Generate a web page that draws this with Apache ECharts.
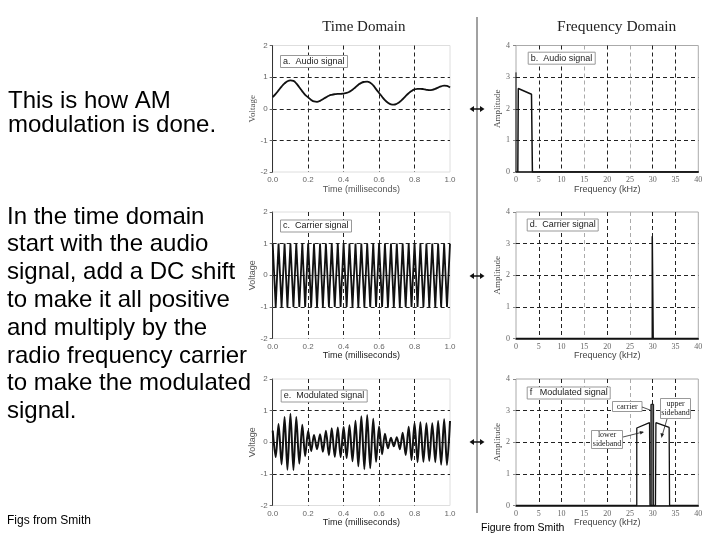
<!DOCTYPE html>
<html><head><meta charset="utf-8">
<script src="https://cdn.jsdelivr.net/npm/echarts@6/dist/echarts.min.js"></script>
<style>html,body{margin:0;padding:0;background:#fff}#c{width:720px;height:540px}</style>
</head><body><div id="c"></div><script>
// ---------- data ----------
const sampleTimes = [0,0.017,0.033,0.05,0.067,0.083,0.1,0.117,0.133,0.15,0.167,0.183,0.2,0.217,0.233,0.25,0.267,0.283,0.3,0.317,0.333,0.35,0.367,0.383,0.4,0.417,0.433,0.45,0.467,0.483,0.5,0.517,0.533,0.55,0.567,0.583,0.6,0.617,0.633,0.65,0.667,0.683,0.7,0.717,0.733,0.75,0.767,0.783,0.8,0.817,0.833,0.85,0.867,0.883,0.9,0.917,0.933,0.95,0.967,0.983,1.0];
const audioVolts = [0.37,0.47,0.58,0.70,0.80,0.87,0.90,0.88,0.80,0.68,0.55,0.44,0.36,0.28,0.23,0.22,0.25,0.30,0.36,0.41,0.44,0.46,0.47,0.47,0.48,0.50,0.54,0.60,0.68,0.76,0.82,0.85,0.86,0.82,0.74,0.62,0.50,0.38,0.27,0.19,0.14,0.13,0.16,0.22,0.30,0.40,0.49,0.56,0.61,0.63,0.63,0.62,0.60,0.59,0.60,0.63,0.67,0.71,0.73,0.72,0.67];
const carrierVolts = [1,-1,1,-1,1,-1,1,-1,1,-1,1,-1,1,-1,1,-1,1,-1,1,-1,1,-1,1,-1,1,-1,1,-1,1,-1,1,-1,1,-1,1,-1,1,-1,1,-1,1,-1,1,-1,1,-1,1,-1,1,-1,1,-1,1,-1,1,-1,1,-1,1,-1,1];
const modulatedVolts = [0.37,-0.47,0.58,-0.70,0.80,-0.87,0.90,-0.88,0.80,-0.68,0.55,-0.44,0.36,-0.28,0.23,-0.22,0.25,-0.30,0.36,-0.41,0.44,-0.46,0.47,-0.47,0.48,-0.50,0.54,-0.60,0.68,-0.76,0.82,-0.85,0.86,-0.82,0.74,-0.62,0.50,-0.38,0.27,-0.19,0.14,-0.13,0.16,-0.22,0.30,-0.40,0.49,-0.56,0.61,-0.63,0.63,-0.62,0.60,-0.59,0.60,-0.63,0.67,-0.71,0.73,-0.72,0.67];

const dcSpecFreq = [0, 0];
const dcSpecAmp = [0, 3.15];
const audioSpecFreq = [0.4, 0.5, 3.4, 3.6, 40];
const audioSpecAmp = [0, 2.64, 2.46, 0, 0];
const carrierSpecFreq = [0, 29.9, 29.9, 30.1, 30.1, 40];
const carrierSpecAmp = [0, 0, 3.23, 3.23, 0, 0];
const modSpecFreq = [0, 26.5, 26.5, 29.3, 29.4, 30.6, 30.7, 33.6, 33.7, 40];
const modSpecAmp = [0, 0, 2.45, 2.62, 0, 0, 2.62, 2.47, 0, 0];
const modCarrierFreq = [29.6, 29.6, 30.2, 30.2];
const modCarrierAmp = [0, 3.2, 3.2, 0];

const panelLabels = ['a.  Audio signal', 'b.  Audio signal', 'c.  Carrier signal', 'd.  Carrier signal', 'e.  Modulated signal', 'f   Modulated signal'];
const introLines = ['This is how AM', 'modulation is done.'];
const bodyLines = ['In the time domain', 'start with the audio', 'signal, add a DC shift', 'to make it all positive', 'and multiply by the', 'radio frequency carrier', 'to make the modulated', 'signal.'];

// ---------- layout ----------
const zip = (xs, ys) => xs.map((x, i) => [x, ys[i]]);
const SANS = 'Liberation Sans, Arial, sans-serif';
const SERIF = 'Liberation Serif, Times New Roman, serif';
const rowTop = [45.5, 212, 379];
const rowH = 126.5;
const tLeft = 272.7, tW = 177.3, fLeft = 516, fW = 182.3;
const zeroY = [109, 276, 442];

const grids = [], xAxes = [], yAxes = [];
const dash = [4, 3];
for (let r = 0; r < 3; r++) {
  grids.push({ left: tLeft, top: rowTop[r], width: tW, height: rowH, show: true, borderColor: '#dedede', borderWidth: 1, backgroundColor: 'transparent' });
}
for (let r = 0; r < 3; r++) {
  grids.push({ left: fLeft, top: rowTop[r], width: fW, height: rowH, show: true, borderColor: '#aaa', borderWidth: 1, backgroundColor: 'transparent' });
}
for (let r = 0; r < 3; r++) {
  xAxes.push({
    gridIndex: r, type: 'value', min: 0, max: 1, interval: 0.2,
    axisLine: { show: false }, axisTick: { show: false },
    axisLabel: { fontSize: 8, color: '#666', margin: 4, fontFamily: SANS, formatter: v => v.toFixed(1) },
    splitLine: { show: true, showMinLine: false, showMaxLine: false, lineStyle: { color: '#222', type: dash, width: 1 } },
    name: 'Time (milliseconds)', nameLocation: 'middle', nameGap: 11,
    nameTextStyle: { fontSize: 9, color: r === 0 ? '#555' : '#222', fontFamily: SANS }
  });
  yAxes.push({
    gridIndex: r, type: 'value', min: -2, max: 2, interval: 1,
    axisLine: { show: true, lineStyle: { color: '#333', width: 1 } },
    axisTick: { show: true, length: 3, lineStyle: { color: '#666' } },
    axisLabel: { fontSize: 8, color: '#666', margin: 5, fontFamily: SANS },
    splitLine: { show: true, showMinLine: false, showMaxLine: false, lineStyle: { color: '#222', type: dash, width: 1 } },
    name: 'Voltage', nameLocation: 'middle', nameGap: 13, nameRotate: 90,
    nameTextStyle: { fontSize: 9, color: '#555', fontFamily: r === 0 ? SERIF : SANS }
  });
}
for (let r = 0; r < 3; r++) {
  xAxes.push({
    gridIndex: 3 + r, type: 'value', min: 0, max: 40, interval: 5,
    axisLine: { show: true, lineStyle: { color: '#111', width: 1.5 } }, axisTick: { show: false },
    axisLabel: { fontSize: 8, color: '#666', margin: 4, fontFamily: SERIF },
    splitLine: { show: true, showMinLine: false, showMaxLine: false, lineStyle: { color: ['#222', '#222', '#aaa', '#222', '#aaa', '#222', '#222'], type: dash, width: 1 } },
    name: 'Frequency (kHz)', nameLocation: 'middle', nameGap: 11,
    nameTextStyle: { fontSize: 9, color: '#444', fontFamily: SANS }
  });
  yAxes.push({
    gridIndex: 3 + r, type: 'value', min: 0, max: 4, interval: 1,
    axisLine: { show: false },
    axisTick: { show: true, length: 3, lineStyle: { color: '#888' } },
    axisLabel: { fontSize: 8, color: '#666', margin: 6, fontFamily: SERIF },
    splitLine: { show: true, showMinLine: false, showMaxLine: false, lineStyle: { color: '#222', type: dash, width: 1 } },
    name: 'Amplitude', nameLocation: 'middle', nameGap: 14, nameRotate: 90,
    nameTextStyle: { fontSize: 9, color: '#444', fontFamily: SERIF }
  });
}

const lineSeries = (idx, data, width, extra) => Object.assign({
  type: 'line', xAxisIndex: idx, yAxisIndex: idx, data, showSymbol: false, symbol: 'none',
  lineStyle: { color: '#111', width }, animation: false, clip: true, z: 5
}, extra || {});

const series = [
  lineSeries(0, zip(sampleTimes, audioVolts), 1.8, { smooth: true }),
  lineSeries(1, zip(sampleTimes, carrierVolts), 1.8),
  lineSeries(2, zip(sampleTimes, modulatedVolts), 2, { smooth: 0.3 }),
  lineSeries(3, zip(dcSpecFreq, dcSpecAmp), 1),
  lineSeries(3, zip(audioSpecFreq, audioSpecAmp), 1.5),
  lineSeries(4, zip(carrierSpecFreq, carrierSpecAmp), 1.5),
  lineSeries(5, zip(modSpecFreq, modSpecAmp), 1.3),
  lineSeries(5, zip(modCarrierFreq, modCarrierAmp), 1, { areaStyle: { color: '#666', opacity: 1 } })
];

const labelPos = [[280, 55], [527.7, 51.7], [280, 219.5], [526.7, 218.5], [280.7, 389.5], [526.7, 386.5]];
const titles = panelLabels.map((t, i) => ({
  text: t, left: labelPos[i][0], top: labelPos[i][1], padding: [2, 3, 2, 3],
  borderColor: '#999', borderWidth: 1, backgroundColor: '#fff',
  textStyle: { fontSize: 9, fontWeight: 'normal', color: '#222', fontFamily: SANS }
}));

const graphic = [];
graphic.push({ type: 'text', x: 363.8, y: 27, style: { text: 'Time Domain', font: '15px ' + SERIF, fill: '#222', align: 'center', verticalAlign: 'middle' } });
graphic.push({ type: 'text', x: 616.7, y: 27, style: { text: 'Frequency Domain', font: '15.5px ' + SERIF, fill: '#222', align: 'center', verticalAlign: 'middle' } });
introLines.forEach((t, i) => graphic.push({ type: 'text', x: 8, y: 101 + i * 24, style: { text: t, font: '24px ' + SANS, fill: '#000', align: 'left', verticalAlign: 'middle' } }));
bodyLines.forEach((t, i) => graphic.push({ type: 'text', x: 7, y: 217 + i * 27.8, style: { text: t, font: '24px ' + SANS, fill: '#000', align: 'left', verticalAlign: 'middle' } }));
graphic.push({ type: 'text', x: 7, y: 520.5, style: { text: 'Figs from Smith', font: '12px ' + SANS, fill: '#000', align: 'left', verticalAlign: 'middle' } });
graphic.push({ type: 'text', x: 481, y: 528.5, style: { text: 'Figure from Smith', font: '10.5px ' + SANS, fill: '#000', align: 'left', verticalAlign: 'middle' } });
// separator
graphic.push({ type: 'line', shape: { x1: 477, y1: 17, x2: 477, y2: 513 }, style: { stroke: '#444', lineWidth: 1 } });
// double arrows
zeroY.forEach(y => {
  graphic.push({ type: 'line', shape: { x1: 471, y1: y, x2: 483, y2: y }, style: { stroke: '#111', lineWidth: 1.5 } });
  graphic.push({ type: 'polygon', shape: { points: [[469.5, y], [474, y - 3], [474, y + 3]] }, style: { fill: '#111' } });
  graphic.push({ type: 'polygon', shape: { points: [[484.5, y], [480, y - 3], [480, y + 3]] }, style: { fill: '#111' } });
});
// annotations in panel f
const boxStyle = { fill: '#fff', stroke: '#999', lineWidth: 1 };
graphic.push({ type: 'rect', shape: { x: 612.5, y: 401.5, width: 29.5, height: 10 }, style: boxStyle, z: 10 });
graphic.push({ type: 'text', x: 627.2, y: 406.8, style: { text: 'carrier', font: '8px ' + SERIF, fill: '#222', align: 'center', verticalAlign: 'middle' }, z: 11 });
graphic.push({ type: 'line', shape: { x1: 642, y1: 407, x2: 650, y2: 410 }, style: { stroke: '#222', lineWidth: 0.8 }, z: 11 });
graphic.push({ type: 'rect', shape: { x: 660.5, y: 398.5, width: 30, height: 20 }, style: boxStyle, z: 10 });
graphic.push({ type: 'text', x: 675.5, y: 408.5, style: { text: 'upper\nsideband', font: '8px ' + SERIF, fill: '#222', align: 'center', verticalAlign: 'middle', lineHeight: 9 }, z: 11 });
graphic.push({ type: 'line', shape: { x1: 667, y1: 419, x2: 662, y2: 436 }, style: { stroke: '#222', lineWidth: 0.8 }, z: 11 });
graphic.push({ type: 'polygon', shape: { points: [[661.5, 438], [660.5, 433], [664, 434]] }, style: { fill: '#222' }, z: 11 });
graphic.push({ type: 'rect', shape: { x: 591.5, y: 430.5, width: 31, height: 18 }, style: boxStyle, z: 10 });
graphic.push({ type: 'text', x: 607, y: 439.5, style: { text: 'lower\nsideband', font: '8px ' + SERIF, fill: '#222', align: 'center', verticalAlign: 'middle', lineHeight: 9 }, z: 11 });
graphic.push({ type: 'line', shape: { x1: 623, y1: 437, x2: 643, y2: 432 }, style: { stroke: '#222', lineWidth: 0.8 }, z: 11 });
graphic.push({ type: 'polygon', shape: { points: [[644, 432], [639.5, 431], [640.5, 434.5]] }, style: { fill: '#222' }, z: 11 });

const chart = echarts.init(document.getElementById('c'), null, { renderer: 'canvas' });
chart.setOption({
  animation: false,
  backgroundColor: '#fff',
  title: titles,
  grid: grids,
  xAxis: xAxes,
  yAxis: yAxes,
  series,
  graphic
});
</script></body></html>
